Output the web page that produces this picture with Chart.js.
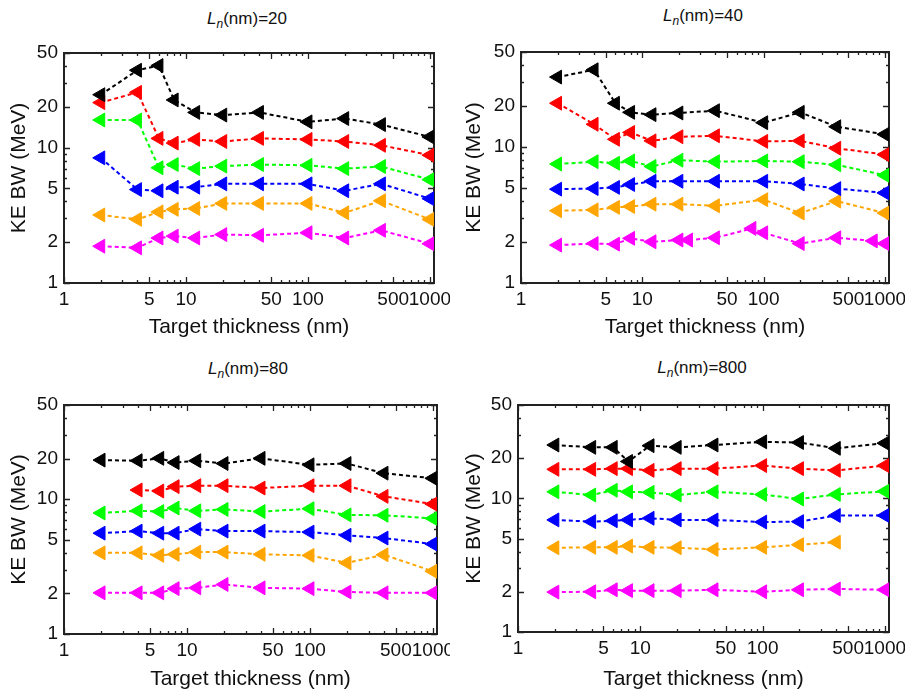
<!DOCTYPE html>
<html>
<head>
<meta charset="utf-8">
<script src="https://cdn.jsdelivr.net/npm/chart.js@4.4.1/dist/chart.umd.min.js"></script>
<style>
  body { margin: 0; background: #fff; width: 905px; height: 692px; position: relative; overflow: hidden; }
  canvas { position: absolute; }
  .ttl { position: absolute; transform: translate(-50%, -50%); font: 17px "Liberation Sans", Arial, sans-serif; color: #111; white-space: nowrap; }
  .ttl sub { font-size: 12px; }
</style>
</head>
<body>
<div class="ttl" style="left:247px;top:20px"><i>L</i><sub><i>n</i></sub>(nm)=20</div>
<div class="ttl" style="left:703px;top:17px"><i>L</i><sub><i>n</i></sub>(nm)=40</div>
<div class="ttl" style="left:248px;top:370px"><i>L</i><sub><i>n</i></sub>(nm)=80</div>
<div class="ttl" style="left:702px;top:369px"><i>L</i><sub><i>n</i></sub>(nm)=800</div>
<canvas id="c1" width="450" height="310" style="left:0;top:30px"></canvas>
<canvas id="c2" width="450" height="310" style="left:455px;top:30px"></canvas>
<canvas id="c3" width="450" height="310" style="left:0;top:382px"></canvas>
<canvas id="c4" width="450" height="310" style="left:455px;top:382px"></canvas>
<script>
// target thickness (nm)
const thick = [2, 4, 6, 8, 12, 20, 40, 100, 200, 400, 1000];
const thickMag40 = [2, 4, 6, 8, 12, 20, 24, 40, 80, 100, 200, 400, 800, 1000];

// tick values
const xMajor = [1, 5, 10, 50, 100, 500, 1000];
const xMinor = [2, 3, 4, 6, 7, 8, 9, 20, 30, 40, 60, 70, 80, 90, 200, 300, 400, 600, 700, 800, 900];
const yMajor = [1, 2, 5, 10, 20, 50];
const yMinor = [3, 4, 6, 7, 8, 9, 30, 40];

const colors = ['#000000', '#ff0000', '#00ff00', '#0000ff', '#ffa500', '#ff00ff'];

// KE BW (MeV), Ln = 20 nm
const ln20Black = [24.6, 37.3, 40.4, 22.5, 18.2, 17.4, 18.2, 15.5, 16.4, 14.8, 12.0];
const ln20Red = [21.5, 25.6, 11.7, 10.8, 11.5, 11.1, 11.7, 11.5, 11.1, 10.4, 8.8];
const ln20Green = [16.0, 16.0, 7.1, 7.5, 7.0, 7.3, 7.5, 7.4, 7.0, 7.25, 5.8];
const ln20Blue = [8.4, 4.9, 4.8, 5.1, 5.1, 5.4, 5.4, 5.4, 4.8, 5.4, 4.2];
const ln20Orange = [3.18, 2.95, 3.35, 3.5, 3.55, 3.87, 3.87, 3.87, 3.3, 4.05, 2.95];
const ln20Magenta = [1.87, 1.82, 2.15, 2.22, 2.15, 2.28, 2.25, 2.35, 2.15, 2.45, 1.95];

// Ln = 40 nm
const ln40Black = [32.7, 37, 21, 18, 17.3, 17.8, 18.5, 15.1, 18, 14.1, 12.4];
const ln40Red = [21, 14.7, 11.4, 12.8, 11.1, 11.9, 12.1, 11.0, 11.1, 9.8, 8.8];
const ln40Green = [7.5, 7.8, 7.6, 7.9, 7.2, 8.0, 7.8, 7.9, 7.8, 7.4, 6.2];
const ln40Blue = [4.9, 4.95, 5.05, 5.3, 5.6, 5.6, 5.6, 5.6, 5.35, 4.95, 4.6];
const ln40Orange = [3.4, 3.45, 3.6, 3.65, 3.8, 3.8, 3.7, 4.1, 3.27, 4.0, 3.27];
const ln40Magenta = [1.9, 1.95, 1.93, 2.13, 2.01, 2.07, 2.07, 2.15, 2.52, 2.34, 1.95, 2.15, 2.04, 1.95];

// Ln = 80 nm
const ln80Black = [19.5, 19.3, 20.1, 18.7, 19.3, 18.4, 20.1, 18.0, 18.4, 15.6, 14.3];
const ln80Red = [null, 11.7, 11.5, 12.4, 12.6, 12.6, 12.1, 12.6, 12.6, 10.5, 9.2];
const ln80Green = [7.9, 8.2, 8.1, 8.6, 8.2, 8.4, 8.1, 8.5, 7.65, 7.6, 7.2];
const ln80Blue = [5.6, 5.8, 5.6, 5.6, 6.0, 5.8, 5.8, 5.7, 5.4, 5.15, 4.65];
const ln80Orange = [4.0, 4.0, 3.83, 3.9, 4.05, 4.05, 3.9, 3.83, 3.37, 3.87, 2.92];
const ln80Magenta = [2.02, 2.02, 2.02, 2.17, 2.2, 2.33, 2.2, 2.17, 2.05, 2.02, 2.02];

// Ln = 800 nm
const ln800Black = [25.1, 24.1, 24.1, 18.9, 24.8, 24.1, 25.1, 26.5, 26.2, 23.7, 25.9];
const ln800Red = [16.5, 16.5, 16.7, 16.7, 16.2, 16.7, 16.7, 17.6, 16.7, 16.2, 17.6];
const ln800Green = [11.2, 10.6, 11.5, 11.2, 11.1, 10.6, 11.2, 10.7, 9.9, 10.7, 11.3];
const ln800Blue = [6.9, 6.7, 6.8, 6.9, 7.1, 6.9, 6.9, 6.65, 6.7, 7.45, 7.45];
const ln800Orange = [4.27, 4.3, 4.3, 4.4, 4.3, 4.27, 4.15, 4.3, 4.5, 4.7, null];
const ln800Magenta = [1.99, 2.0, 2.07, 2.04, 2.04, 2.04, 2.07, 2.0, 2.07, 2.1, 2.07];

const FONT = '"Liberation Sans", Arial, sans-serif';

// frame + inward tick marks on all four sides
const frameTicks = {
  id: 'frameTicks',
  beforeDatasetsDraw(chart) {
    const { ctx, chartArea: a, scales: { x, y } } = chart;
    ctx.save();
    ctx.strokeStyle = '#222';
    ctx.lineWidth = 1.3;
    ctx.beginPath();
    xMajor.concat(xMinor).forEach(v => {
      const px = Math.round(x.getPixelForValue(v)) + 0.5;
      const len = xMajor.includes(v) ? 6 : 3;
      ctx.moveTo(px, a.bottom); ctx.lineTo(px, a.bottom - len);
      ctx.moveTo(px, a.top); ctx.lineTo(px, a.top + len);
    });
    yMajor.concat(yMinor).forEach(v => {
      const py = Math.round(y.getPixelForValue(v)) + 0.5;
      const len = yMajor.includes(v) ? 6 : 3;
      ctx.moveTo(a.left, py); ctx.lineTo(a.left + len, py);
      ctx.moveTo(a.right, py); ctx.lineTo(a.right - len, py);
    });
    ctx.stroke();
    ctx.lineWidth = 2;
    ctx.strokeRect(a.left, a.top, a.right - a.left, a.bottom - a.top);
    ctx.restore();
  }
};

function series(xs, ys, color) {
  return {
    data: xs.map((x, i) => ({ x: x, y: ys[i] })),
    showLine: true,
    borderColor: color,
    backgroundColor: color,
    borderWidth: 2,
    borderDash: [4, 3],
    pointStyle: 'triangle',
    rotation: -90,
    pointRadius: 8,
    pointHoverRadius: 8,
    pointBorderWidth: 1,
    pointBorderColor: color,
    pointBackgroundColor: color
  };
}

// box = plot area inside the canvas: left, top, right, bottom
function makePanel(id, lists, box) {
  const cv = document.getElementById(id);
  const W = cv.width, H = cv.height;
  new Chart(cv, {
    type: 'scatter',
    data: { datasets: lists.map((l, i) => series(l[0], l[1], colors[i])) },
    options: {
      responsive: false,
      animation: false,
      devicePixelRatio: 1,
      layout: { padding: { left: 0, top: box[1], right: W - box[2], bottom: 0 } },
      plugins: { legend: { display: false }, tooltip: { enabled: false } },
      scales: {
        x: {
          type: 'logarithmic',
          min: 1,
          max: 1080,
          grid: { display: false, drawTicks: false },
          border: { display: false },
          afterBuildTicks: s => { s.ticks = xMajor.map(v => ({ value: v })); },
          afterFit: s => { s.height = H - box[3]; s.paddingLeft = 0; s.paddingRight = 0; },
          ticks: {
            autoSkip: false,
            maxRotation: 0,
            padding: 5,
            color: '#111',
            font: { family: FONT, size: 19 },
            callback: v => String(v)
          },
          title: {
            display: true,
            text: 'Target thickness (nm)',
            color: '#111',
            font: { family: FONT, size: 21 },
            padding: { top: 0, bottom: 0 }
          }
        },
        y: {
          type: 'logarithmic',
          min: 1,
          max: 50,
          grid: { display: false, drawTicks: false },
          border: { display: false },
          afterBuildTicks: s => { s.ticks = yMajor.map(v => ({ value: v })); },
          afterFit: s => { s.width = box[0]; s.paddingTop = 0; s.paddingBottom = 0; },
          ticks: {
            autoSkip: false,
            padding: 6,
            color: '#111',
            font: { family: FONT, size: 19 },
            callback: v => String(v)
          },
          title: {
            display: true,
            text: 'KE BW (MeV)',
            color: '#111',
            font: { family: FONT, size: 21 },
            padding: { top: 7, bottom: 0 }
          }
        }
      }
    },
    plugins: [frameTicks]
  });
}

makePanel('c1', [
  [thick, ln20Black], [thick, ln20Red], [thick, ln20Green],
  [thick, ln20Blue], [thick, ln20Orange], [thick, ln20Magenta]
], [64, 23, 434, 253]);

makePanel('c2', [
  [thick, ln40Black], [thick, ln40Red], [thick, ln40Green],
  [thick, ln40Blue], [thick, ln40Orange], [thickMag40, ln40Magenta]
], [66, 22, 434, 253]);

makePanel('c3', [
  [thick, ln80Black], [thick, ln80Red], [thick, ln80Green],
  [thick, ln80Blue], [thick, ln80Orange], [thick, ln80Magenta]
], [64, 23, 437, 252]);

makePanel('c4', [
  [thick, ln800Black], [thick, ln800Red], [thick, ln800Green],
  [thick, ln800Blue], [thick, ln800Orange], [thick, ln800Magenta]
], [63, 23, 434, 250]);
</script>
</body>
</html>
